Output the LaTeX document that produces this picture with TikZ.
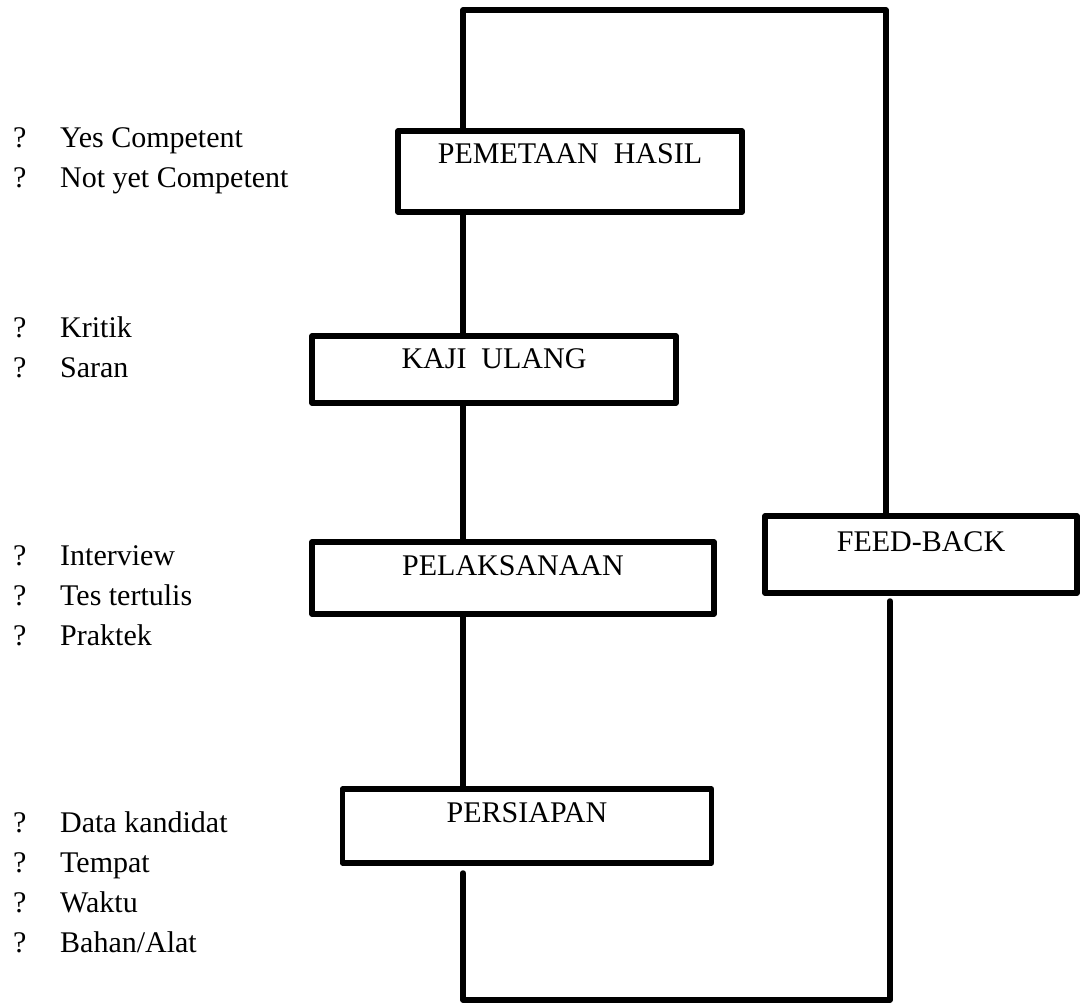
\documentclass[tikz,border=0pt]{standalone}
\usepackage{fontspec}
\setmainfont{Liberation Serif}
\usetikzlibrary{positioning}

\begin{document}
\begin{tikzpicture}[x=1pt,y=-1pt,
  box/.style={draw,line width=5.5pt,line join=round,inner sep=0pt,anchor=base,font=\fontsize{30}{40}\selectfont},
  wire/.style={line width=5.5pt,line cap=round,line join=round},
  items/.style={inner sep=0pt,anchor=base west,font=\fontsize{30}{40}\selectfont}]
\useasboundingbox (0,0) rectangle (1080,1004);
\node[box,minimum width=344pt,text height=32pt,text depth=49pt] (b1) at (570,163) {PEMETAAN~~HASIL};
\node[box,minimum width=364pt,text height=32pt,text depth=35pt] (b2) at (494,368) {KAJI~~ULANG};
\node[box,minimum width=402pt,text height=33pt,text depth=39pt] (b3) at (513,575) {PELAKSANAAN};
\node[box,minimum width=369pt,text height=33pt,text depth=41pt] (b4) at (527,822) {PERSIAPAN};
\node[box,minimum width=312pt,text height=35pt,text depth=42pt] (b5) at (921,551) {FEED-BACK};
\node[items] (l1) at (13,147) {\begin{tabular}[t]{@{}p{47pt}@{}l@{}}?&Yes Competent\\?&Not yet Competent\end{tabular}};
\node[items] (l2) at (13,337) {\begin{tabular}[t]{@{}p{47pt}@{}l@{}}?&Kritik\\?&Saran\end{tabular}};
\node[items] (l3) at (13,565) {\begin{tabular}[t]{@{}p{47pt}@{}l@{}}?&Interview\\?&Tes tertulis\\?&Praktek\end{tabular}};
\node[items] (l4) at (13,832) {\begin{tabular}[t]{@{}p{47pt}@{}l@{}}?&Data kandidat\\?&Tempat\\?&Waktu\\?&Bahan/Alat\end{tabular}};
\coordinate (tl) at (463,10);
\coordinate (tr) at (886,10);
\coordinate (bl) at (463,1000);
\coordinate (br) at (890,1000);
\coordinate (g1) at (463,873);
\coordinate (g2) at (890,601);
\draw[wire] (b1.south -| tl)--(b2.north -| tl);
\draw[wire] (b2.south -| tl)--(b3.north -| tl);
\draw[wire] (b3.south -| tl)--(b4.north -| tl);
\draw[wire] (b1.north -| tl)--(tl)--(tr)--(b5.north -| tr);
\draw[wire] (g1)--(bl)--(br)--(g2);
\end{tikzpicture}
\end{document}
